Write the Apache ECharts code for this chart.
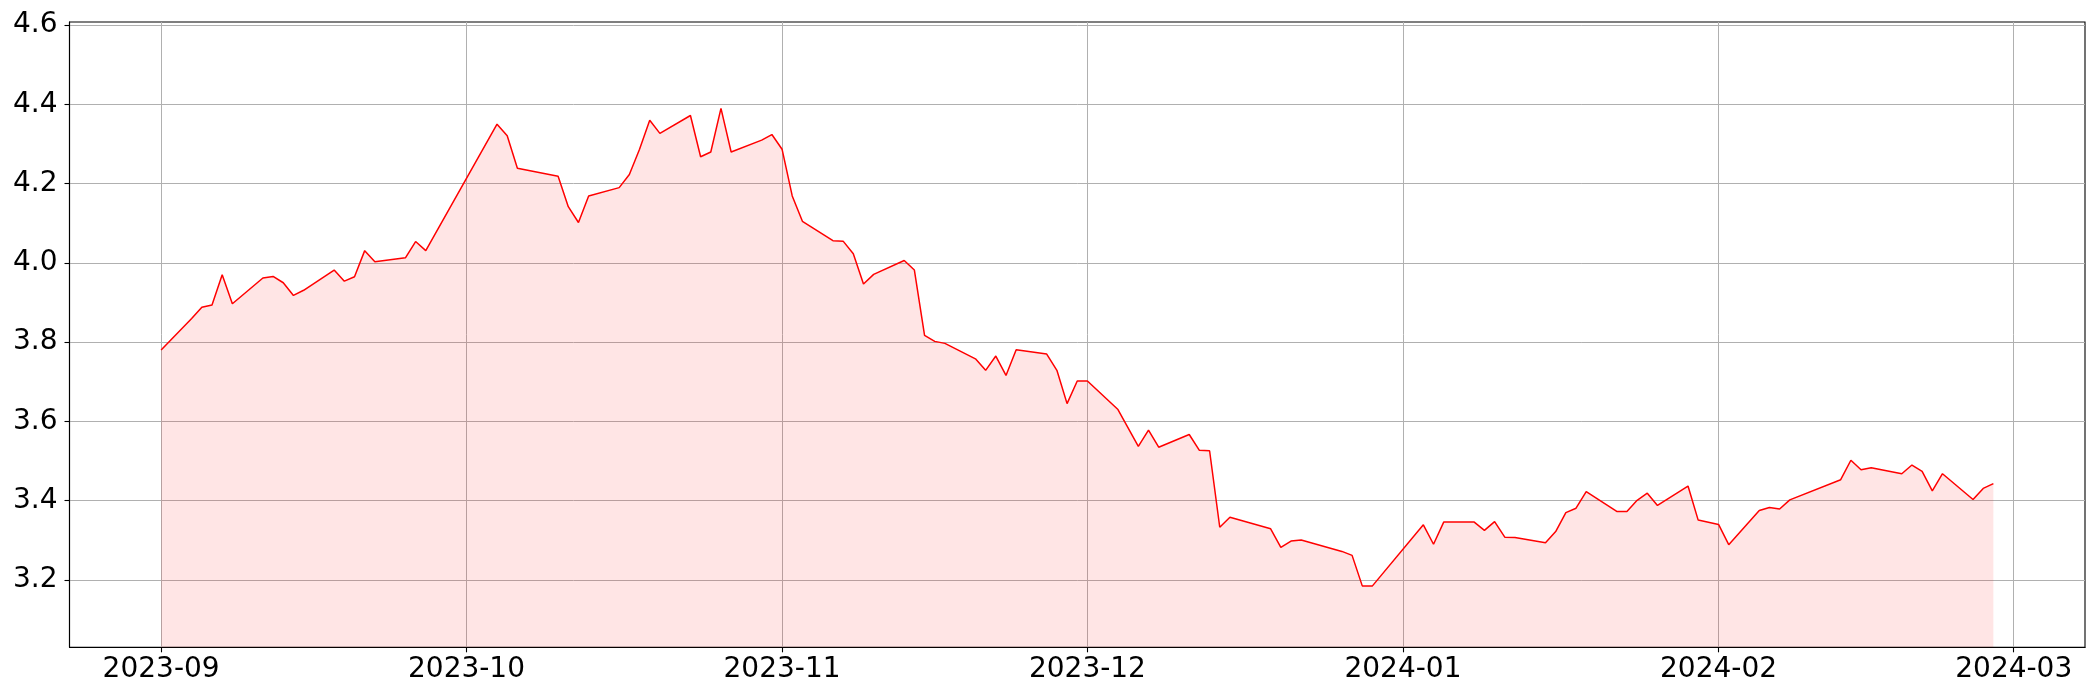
<!DOCTYPE html>
<html>
<head>
<meta charset="utf-8">
<script src="https://cdn.jsdelivr.net/npm/echarts@6/dist/echarts.min.js"></script>
<style>
html,body{margin:0;padding:0;background:#fff;}
#chart{width:2100px;height:700px;}
</style>
</head>
<body>
<div id="chart"></div>
<script>
const dates = [
'2023-09-01','2023-09-04','2023-09-05','2023-09-06','2023-09-07','2023-09-08',
'2023-09-11','2023-09-12','2023-09-13','2023-09-14','2023-09-15',
'2023-09-18','2023-09-19','2023-09-20','2023-09-21','2023-09-22',
'2023-09-25','2023-09-26','2023-09-27',
'2023-10-04','2023-10-05','2023-10-06',
'2023-10-10','2023-10-11','2023-10-12','2023-10-13',
'2023-10-16','2023-10-17','2023-10-18','2023-10-19','2023-10-20',
'2023-10-23','2023-10-24','2023-10-25','2023-10-26','2023-10-27',
'2023-10-30','2023-10-31','2023-11-01','2023-11-02','2023-11-03',
'2023-11-06','2023-11-07','2023-11-08','2023-11-09','2023-11-10',
'2023-11-13','2023-11-14','2023-11-15','2023-11-16','2023-11-17',
'2023-11-20','2023-11-21','2023-11-22','2023-11-23','2023-11-24',
'2023-11-27','2023-11-28','2023-11-29','2023-11-30','2023-12-01',
'2023-12-04','2023-12-06','2023-12-07','2023-12-08',
'2023-12-11','2023-12-12','2023-12-13','2023-12-14','2023-12-15',
'2023-12-19','2023-12-20','2023-12-21','2023-12-22',
'2023-12-26','2023-12-27','2023-12-28','2023-12-29',
'2024-01-03','2024-01-04','2024-01-05',
'2024-01-08','2024-01-09','2024-01-10','2024-01-11','2024-01-12',
'2024-01-15','2024-01-16','2024-01-17','2024-01-18','2024-01-19',
'2024-01-22','2024-01-23','2024-01-24','2024-01-25','2024-01-26',
'2024-01-29','2024-01-30','2024-02-01','2024-02-02',
'2024-02-05','2024-02-06','2024-02-07','2024-02-08',
'2024-02-13','2024-02-14','2024-02-15','2024-02-16',
'2024-02-19','2024-02-20','2024-02-21','2024-02-22','2024-02-23',
'2024-02-26','2024-02-27','2024-02-28'
];
const values = [
3.780,3.860,3.888,3.894,3.970,3.897,
3.962,3.966,3.950,3.918,3.931,
3.982,3.954,3.965,4.031,4.003,
4.013,4.054,4.031,
4.350,4.321,4.239,
4.219,4.142,4.102,4.169,
4.190,4.223,4.287,4.360,4.327,
4.372,4.268,4.280,4.390,4.280,
4.310,4.324,4.287,4.169,4.105,
4.056,4.055,4.023,3.947,3.971,
4.006,3.982,3.817,3.802,3.797,
3.758,3.729,3.765,3.716,3.781,
3.770,3.729,3.645,3.702,3.702,
3.630,3.537,3.578,3.535,
3.567,3.527,3.526,3.333,3.358,
3.329,3.282,3.298,3.301,
3.272,3.262,3.185,3.185,
3.339,3.290,3.346,
3.346,3.325,3.347,3.308,3.307,
3.294,3.322,3.370,3.381,3.423,
3.373,3.373,3.401,3.419,3.388,
3.437,3.351,3.340,3.289,
3.375,3.383,3.379,3.402,
3.453,3.502,3.478,3.483,
3.468,3.490,3.474,3.425,3.468,
3.403,3.431,3.443
];
const xTickLabels = ['2023-09','2023-10','2023-11','2023-12','2024-01','2024-02','2024-03'];
const yTicks = [3.2,3.4,3.6,3.8,4.0,4.2,4.4,4.6];
const xRange = ['2023-08-23','2024-03-08'];
const yRange = [3.03,4.608];

function toTs(s){
  const p = s.split('-').map(Number);
  return Date.UTC(p[0], p[1]-1, p.length>2 ? p[2] : 1);
}
const xTickTimes = xTickLabels.map(toTs);
const seriesData = dates.map((d,i)=>[toTs(d), values[i]]);
const font = 'DejaVu Sans';

const chart = echarts.init(document.getElementById('chart'), null, {renderer:'canvas'});
chart.setOption({
  animation:false,
  backgroundColor:'#fff',
  grid:{left:69.5,right:15,top:22,bottom:52.7,containLabel:false,show:true,borderColor:'#000',borderWidth:1.1,backgroundColor:'transparent'},
  xAxis:{
    type:'value',
    min:toTs(xRange[0]), max:toTs(xRange[1]),
    axisLine:{show:true,onZero:false,lineStyle:{color:'#000',width:1.1}},
    axisTick:{show:true,customValues:xTickTimes,length:5,lineStyle:{color:'#000',width:1.1}},
    axisLabel:{customValues:xTickTimes,margin:8,color:'#000',fontFamily:font,fontSize:28,
      formatter:function(v){const i=xTickTimes.indexOf(v);return i>=0?xTickLabels[i]:'';}},
    splitLine:{show:true,lineStyle:{color:'#b0b0b0',width:1}}
  },
  yAxis:{
    type:'value',
    min:yRange[0], max:yRange[1],
    axisLine:{show:true,onZero:false,lineStyle:{color:'#000',width:1.1}},
    axisTick:{show:true,customValues:yTicks,length:5,lineStyle:{color:'#000',width:1.1}},
    axisLabel:{customValues:yTicks,margin:12,color:'#000',fontFamily:font,fontSize:28,
      formatter:function(v){return Number(v).toFixed(1);}},
    splitLine:{show:true,lineStyle:{color:'#b0b0b0',width:1}}
  },
  series:[{
    type:'line',
    data:seriesData,
    showSymbol:false,
    symbol:'none',
    lineStyle:{color:'#ff0000',width:1.5},
    itemStyle:{color:'#ff0000'},
    areaStyle:{color:'rgba(255,0,0,0.1)',opacity:1,origin:'start'}
  }]
});
</script>
</body>
</html>
